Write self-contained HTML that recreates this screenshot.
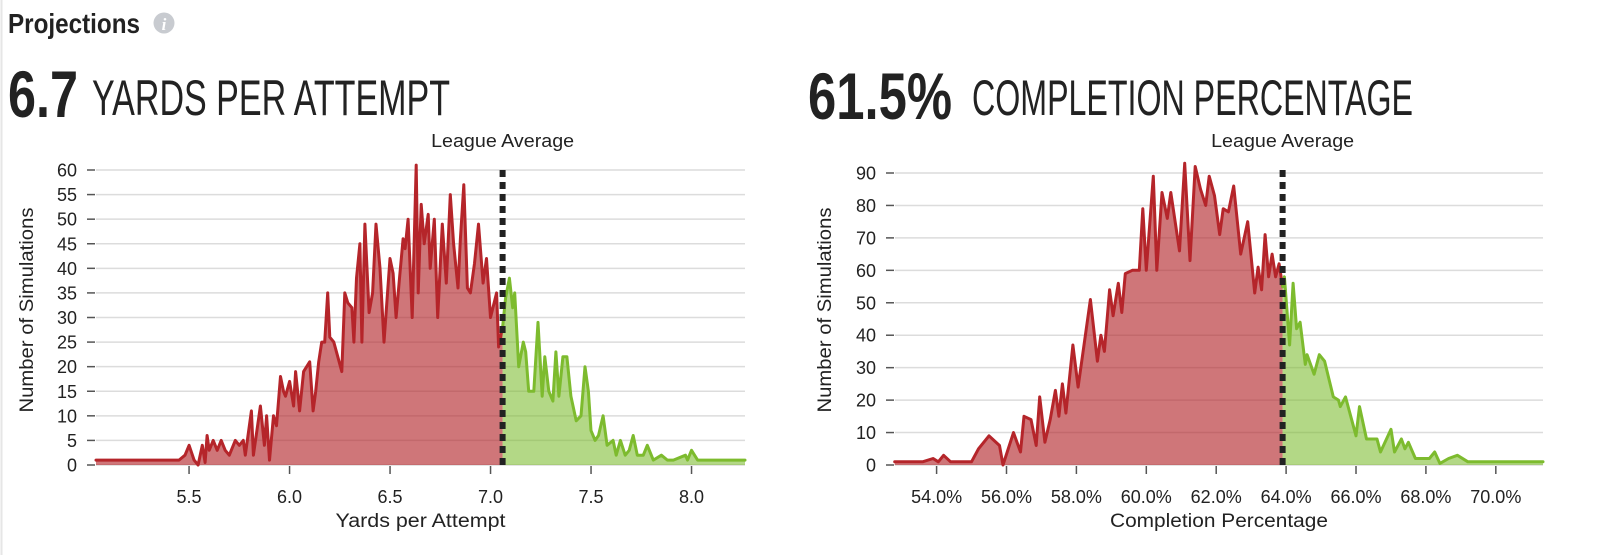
<!DOCTYPE html>
<html><head><meta charset="utf-8">
<style>
html,body{margin:0;padding:0;background:#fff;}
body{width:1600px;height:555px;overflow:hidden;position:relative;font-family:"Liberation Sans",sans-serif;}
svg{position:absolute;left:0;top:0;}
</style></head>
<body>
<svg id="chart" width="1600" height="555" viewBox="0 0 1600 555" xmlns="http://www.w3.org/2000/svg">
  <line x1="1.5" y1="0" x2="1.5" y2="555" stroke="#e6e6e6" stroke-width="2"/>
  <text x="8" y="33" font-family="'Liberation Sans Narrow','Liberation Sans',sans-serif" font-weight="bold" font-size="28" fill="#222" textLength="132" lengthAdjust="spacingAndGlyphs">Projections</text>
  <g>
    <circle cx="164" cy="23" r="10.5" fill="#c8cbd0"/>
    <text x="164" y="30" text-anchor="middle" font-family="'Liberation Serif',serif" font-style="italic" font-weight="bold" font-size="17" fill="#fff">i</text>
  </g>
  <text x="8" y="117" font-family="'Liberation Sans Narrow','Liberation Sans',sans-serif" font-weight="bold" font-size="66" fill="#222" textLength="70" lengthAdjust="spacingAndGlyphs">6.7</text>
  <text x="92" y="115" font-family="'Liberation Sans Narrow','Liberation Sans',sans-serif" font-size="50" fill="#222" textLength="358" lengthAdjust="spacingAndGlyphs">YARDS PER ATTEMPT</text>
  <text x="808" y="119" font-family="'Liberation Sans Narrow','Liberation Sans',sans-serif" font-weight="bold" font-size="66" fill="#222" textLength="144" lengthAdjust="spacingAndGlyphs">61.5%</text>
  <text x="972" y="115" font-family="'Liberation Sans Narrow','Liberation Sans',sans-serif" font-size="50" fill="#222" textLength="441" lengthAdjust="spacingAndGlyphs">COMPLETION PERCENTAGE</text>
</svg>
<script>
// ---- Yards per attempt chart data ----
const ypaX = [5.037,5.45,5.48,5.5,5.525,5.545,5.566,5.58,5.59,5.6,5.62,5.64,5.66,5.68,5.7,5.73,5.75,5.77,5.78,5.81,5.82,5.855,5.875,5.886,5.9,5.92,5.935,5.955,5.97,5.98,6.0,6.02,6.03,6.05,6.07,6.1,6.117,6.13,6.145,6.16,6.175,6.19,6.2,6.22,6.24,6.26,6.275,6.29,6.31,6.32,6.333,6.35,6.36,6.375,6.396,6.413,6.43,6.45,6.47,6.5,6.515,6.53,6.547,6.565,6.575,6.59,6.61,6.63,6.64,6.655,6.67,6.69,6.7,6.72,6.737,6.76,6.78,6.8,6.816,6.838,6.85,6.867,6.885,6.9,6.92,6.94,6.963,6.98,7.0,7.03,7.04,7.06,7.075,7.094,7.11,7.12,7.14,7.163,7.175,7.19,7.215,7.236,7.257,7.27,7.29,7.31,7.325,7.34,7.36,7.38,7.4,7.426,7.45,7.47,7.487,7.5,7.52,7.537,7.56,7.58,7.61,7.625,7.646,7.67,7.69,7.71,7.73,7.76,7.78,7.81,7.85,7.88,7.91,7.97,7.98,8.0,8.03,8.266];
const ypaCount = [1,1,2,4,1,0,4,0.5,6,3,5,3,5,3,2,5,4,5,2,11,2,12,4,10,1,10,8,18,15,14,17,12,19,11,19,21,11,15,21,25,25,35,26,25,22,19,35,33,32,25,38,45,25,49,31,35,49,40,25,42,39,30,38,46,44,50,30,61,35,53,45,51,40,50,30,49,37,55,45,36,46,57,36,35,41,49,37,42,30,35,24,28,34,38,32,35,20,25,23,15,15,29,14,22,15,13,23,14,22,22,14,9,10,20,15,7,5,6,10,4,5,2,5,2,3,6,2,2,4,1,2,1,1,2,1,3,1,1];
const ypaLeagueAvg = 7.06;
const ypaYTicks = [0,5,10,15,20,25,30,35,40,45,50,55,60];
const ypaXTicks = [5.5,6.0,6.5,7.0,7.5,8.0];

// ---- Completion percentage chart data ----
const cmpX = [52.8,53.6,53.9,54.05,54.2,54.4,55.0,55.2,55.5,55.8,55.9,56.2,56.4,56.5,56.7,56.85,56.95,57.1,57.25,57.4,57.5,57.6,57.7,57.9,58.05,58.4,58.6,58.7,58.8,58.95,59.05,59.2,59.3,59.4,59.6,59.8,59.9,60.0,60.2,60.3,60.45,60.6,60.7,60.95,61.1,61.25,61.4,61.55,61.7,61.8,61.95,62.1,62.2,62.35,62.5,62.7,62.9,63.1,63.2,63.3,63.4,63.5,63.6,63.7,63.8,63.9,63.95,64.1,64.2,64.3,64.4,64.55,64.6,64.8,64.95,65.1,65.35,65.5,65.55,65.7,66.0,66.1,66.3,66.6,66.7,67.0,67.1,67.3,67.4,67.5,67.7,67.85,68.1,68.25,68.4,68.65,68.9,69.2,69.7,71.35];
const cmpCount = [1,1,2,1,3,1,1,5,9,6,0,10,4,15,14,6,21,7,14,23,15,25,16,37,24,51,32,40,35,54,46,56,47,59,60,60,79,60,89,60,84,76,84,66,93,63,92,85,80,89,83,71,79,78,86,65,75,53,61,54,71,58,65,58,62,55,58,37,56,42,44,31,34,28,34,32,21,20,18,21,9,18,8,8,4,11,4,8,5,7,2,2,2,4,0.5,2,3,1,1,1];
const cmpLeagueAvg = 63.9;
const cmpYTicks = [0,10,20,30,40,50,60,70,80,90];
const cmpXTicks = [54,56,58,60,62,64,66,68,70];

const svg = document.getElementById('chart');
const NS = 'http://www.w3.org/2000/svg';
function mk(tag, attrs, parent){
  const e = document.createElementNS(NS, tag);
  for (const k in attrs) e.setAttribute(k, attrs[k]);
  (parent || svg).appendChild(e);
  return e;
}

function drawChart(c){
  const g = mk('g', {});
  
  
  const sx = v => c.px0 + (v - c.x0) * (c.px1 - c.px0) / (c.x1 - c.x0);
  const sy = v => c.py0 + v * (c.py1 - c.py0) / c.yMaxTick;

  // gridlines + y ticks
  c.yTicks.forEach(t => {
    const gl = mk('line', {x1: c.px0, x2: c.px1, y1: sy(t), y2: sy(t), stroke: '#dcdcdc', 'stroke-width': 1.5}, g);
    
    
    const tk = mk('line', {x1: c.px0 - 9, x2: c.px0 - 1, y1: sy(t), y2: sy(t), stroke: '#555', 'stroke-width': 1.5}, g);
    
    
    const tl = mk('text', {x: c.px0 - 19, y: sy(t) + 6.5, 'text-anchor': 'end', 'font-size': 18, fill: '#222'}, g);
    
    
    tl.textContent = String(t);
  });
  // x ticks
  c.xTicks.forEach(t => {
    const tk = mk('line', {x1: sx(t), x2: sx(t), y1: c.py0 + 1, y2: c.py0 + 9, stroke: '#555', 'stroke-width': 1.5}, g);
    
    
    const tl = mk('text', {x: sx(t), y: c.py0 + 38, 'text-anchor': 'middle', 'font-size': 18, fill: '#222'}, g);
    
    
    tl.textContent = c.fmt(t);
  });

  // split series at league average
  const xs = c.xs, ys = c.ys, avg = c.avg;
  let redPts = [], greenPts = [];
  for (let i = 0; i < xs.length; i++) {
    if (xs[i] <= avg) redPts.push([xs[i], ys[i]]);
    if (xs[i] >= avg) greenPts.push([xs[i], ys[i]]);
    if (i < xs.length - 1 && xs[i] < avg && xs[i + 1] > avg) {
      const f = (avg - xs[i]) / (xs[i + 1] - xs[i]);
      const yv = ys[i] + f * (ys[i + 1] - ys[i]);
      redPts.push([avg, yv]);
      greenPts.push([avg, yv]);
    }
  }
  function series(pts, fill, stroke, name){
    if (!pts.length) return;
    const line = pts.map(p => sx(p[0]).toFixed(1) + ',' + sy(p[1]).toFixed(1)).join(' ');
    const area = sx(pts[0][0]).toFixed(1) + ',' + sy(0) + ' ' + line + ' ' + sx(pts[pts.length - 1][0]).toFixed(1) + ',' + sy(0);
    const a = mk('polygon', {points: area, fill: fill, stroke: 'none'}, g);
    
    
    const l = mk('polyline', {points: line, fill: 'none', stroke: stroke, 'stroke-width': 3, 'stroke-linejoin': 'round', 'stroke-linecap': 'round'}, g);
    
    
  }
  series(redPts, 'rgba(178,34,38,0.62)', '#b5252a', 'below-average');
  series(greenPts, 'rgba(124,187,46,0.58)', '#7dbb2e', 'above-average');

  // league average dashed line
  const dl = mk('line', {x1: sx(avg), x2: sx(avg), y1: c.py0, y2: 166, stroke: '#222', 'stroke-width': 6, 'stroke-dasharray': '7 5'}, g);
  
  
  const la = mk('text', {x: sx(avg), y: 147, 'text-anchor': 'middle', 'font-size': 18, fill: '#222', textLength: 143, lengthAdjust: 'spacingAndGlyphs'}, g);
  
  
  la.textContent = 'League Average';

  // axis titles
  const xt = mk('text', {x: (c.px0 + c.px1) / 2, y: 527, 'text-anchor': 'middle', 'font-size': 19, fill: '#222', textLength: c.xTitleLen, lengthAdjust: 'spacingAndGlyphs'}, g);
  
  
  xt.textContent = c.xTitle;
  const yt = mk('text', {x: 0, y: 0, 'text-anchor': 'middle', 'font-size': 19, fill: '#222', textLength: 205, lengthAdjust: 'spacingAndGlyphs', transform: 'translate(' + (c.yTitleX) + ',310) rotate(-90)'}, g);
  
  
  yt.textContent = 'Number of Simulations';
}

drawChart({id: 'ypa', xs: ypaX, ys: ypaCount, avg: ypaLeagueAvg, yTicks: ypaYTicks, xTicks: ypaXTicks,
  x0: 5.037, x1: 8.266, px0: 96, px1: 745, py0: 465, py1: 170, yMaxTick: 60,
  fmt: t => t.toFixed(1), xTitle: 'Yards per Attempt', xTitleLen: 170, yTitleX: 33});
drawChart({id: 'cmp', xs: cmpX, ys: cmpCount, avg: cmpLeagueAvg, yTicks: cmpYTicks, xTicks: cmpXTicks,
  x0: 52.81, x1: 71.35, px0: 895, px1: 1543, py0: 465, py1: 173, yMaxTick: 90,
  fmt: t => t.toFixed(1) + '%', xTitle: 'Completion Percentage', xTitleLen: 218, yTitleX: 831});
</script>
</body></html>
